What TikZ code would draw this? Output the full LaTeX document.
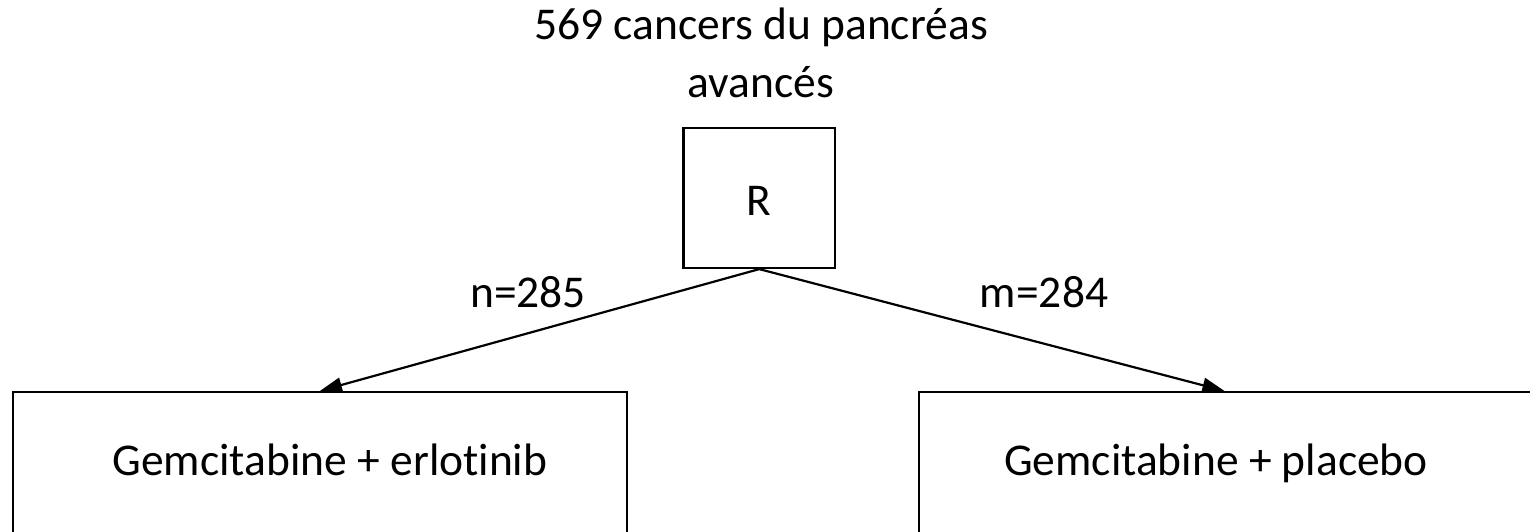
\documentclass[tikz,border=0pt]{standalone}
\usepackage{fontspec}
\setmainfont[Ligatures=NoCommon]{Carlito}
\usetikzlibrary{arrows.meta,calc}
\begin{document}
\begin{tikzpicture}[x=1pt,y=-1pt,
  txt/.style={font=\fontsize{45.5}{54}\selectfont, inner sep=0pt, anchor=base},
  boxnode/.style={draw, line width=2.2pt, inner sep=0pt},
  conn/.style={line width=2.2pt, -{Triangle[length=22pt,width=15pt]}}]
\useasboundingbox (0,0) rectangle (1530,531);
\clip (0,0) rectangle (1530,531);
\node[txt] (t1) at (761,39) {569 cancers du pancréas};
\node[txt] (t2) at (761,97) {avancés};
\node[boxnode, minimum width=151.5pt, minimum height=140pt] (R) at (759.25,198) {};
\node[txt] (rl) at (759.25,215) {R};
\node[boxnode, minimum width=614.5pt, minimum height=146pt] (L) at (320,465) {};
\node[boxnode, minimum width=660pt, minimum height=146pt] (P) at (1249,465) {};
\node[txt] (lt) at (330,475) {Gemcitabine + erlotinib};
\node[txt] (pt) at (1216,475) {Gemcitabine + placebo};
\node[txt] (n) at (528,307) {n=285};
\node[txt] (m) at (1044,307) {m=284};
\draw[conn] (R.south) -- (L.north);
\draw[conn] (R.south) -- ($(P.north west)+(306.5,0)$);
\end{tikzpicture}
\end{document}
